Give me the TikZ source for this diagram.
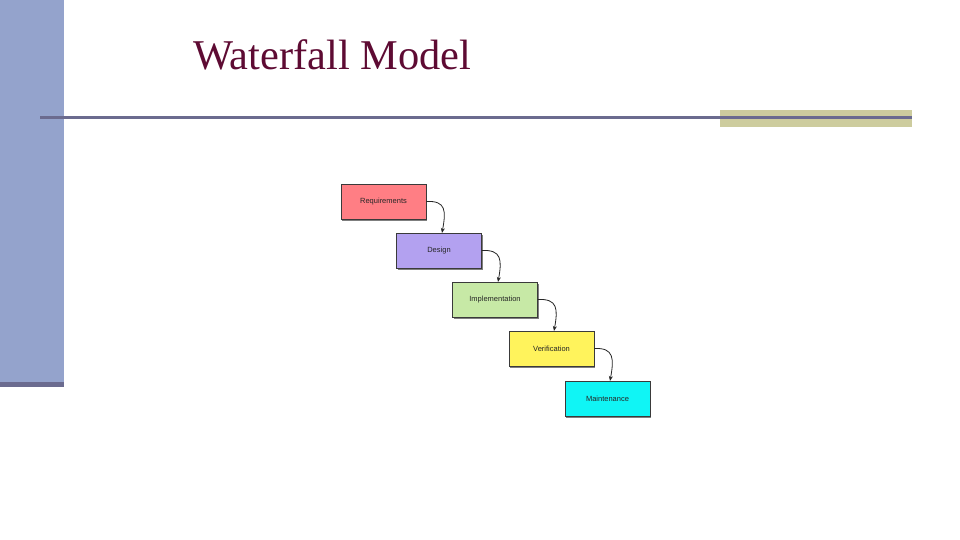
\documentclass[tikz,border=0pt]{standalone}
\usepackage{fontspec}
\setmainfont{Liberation Serif}
\newfontfamily\boxfont{Liberation Sans}
\usetikzlibrary{shadows,arrows.meta}
\definecolor{barblue}{HTML}{94A3CC}
\definecolor{linegray}{HTML}{6B6B8F}
\definecolor{olive}{HTML}{CDCC9E}
\definecolor{titlered}{HTML}{5E0B33}
\definecolor{cpink}{HTML}{FF7E84}
\definecolor{cpurple}{HTML}{B3A1F0}
\definecolor{cgreen}{HTML}{C7E9A6}
\definecolor{cyellow}{HTML}{FFF35C}
\definecolor{ccyan}{HTML}{10F5F5}
\definecolor{bordergray}{HTML}{3A3A3A}
\tikzset{
  phase/.style={draw=bordergray, line width=0.6pt, minimum width=85pt, minimum height=35pt,
    inner sep=0pt, font=\boxfont\fontsize{7.5}{9}\selectfont, text=black!85,
    drop shadow={shadow xshift=1.2pt, shadow yshift=-2pt, opacity=0.5, fill=black}},
  flow/.style={draw=black!85, line width=0.8pt, -{Stealth[length=5pt,width=4pt]}}
}
\begin{document}
\begin{tikzpicture}[x=1pt,y=-1pt]
\useasboundingbox (0,0) rectangle (960,540);
\fill[white] (0,0) rectangle (960,540);
% left bar
\fill[barblue] (0,0) rectangle (64,383);
\fill[linegray] (0,382) rectangle (64,387);
% olive box and rule
\fill[olive] (720,110) rectangle (912,127);
\fill[linegray] (40,116) rectangle (912,119);
% title
\node[anchor=base west, inner sep=0pt, text=titlered, font=\fontsize{42.4}{42}\selectfont] (title) at (193,70) {Waterfall Model};
% phases
\node[phase, fill=cpink]   (req)  at (383.5,201.5) {Requirements};
\node[phase, fill=cpurple] (des)  at (439,250.5) {Design};
\node[phase, fill=cgreen]  (imp)  at (495,299.5) {Implementation};
\node[phase, fill=cyellow] (ver)  at (551.5,348.5) {Verification};
\node[phase, fill=ccyan]   (mai)  at (607.5,398.5) {Maintenance};
% arrow targets
\coordinate (t1) at (442,233);
\coordinate (t2) at (498,282);
\coordinate (t3) at (554,331);
\coordinate (t4) at (610,381);
\draw[flow] (req.east) .. controls +(20,-1) and +(4,-22) .. (t1);
\draw[flow] (des.east) .. controls +(20,-1) and +(4,-22) .. (t2);
\draw[flow] (imp.east) .. controls +(20,-1) and +(4,-22) .. (t3);
\draw[flow] (ver.east) .. controls +(20,-1) and +(4,-22) .. (t4);
\end{tikzpicture}
\end{document}
